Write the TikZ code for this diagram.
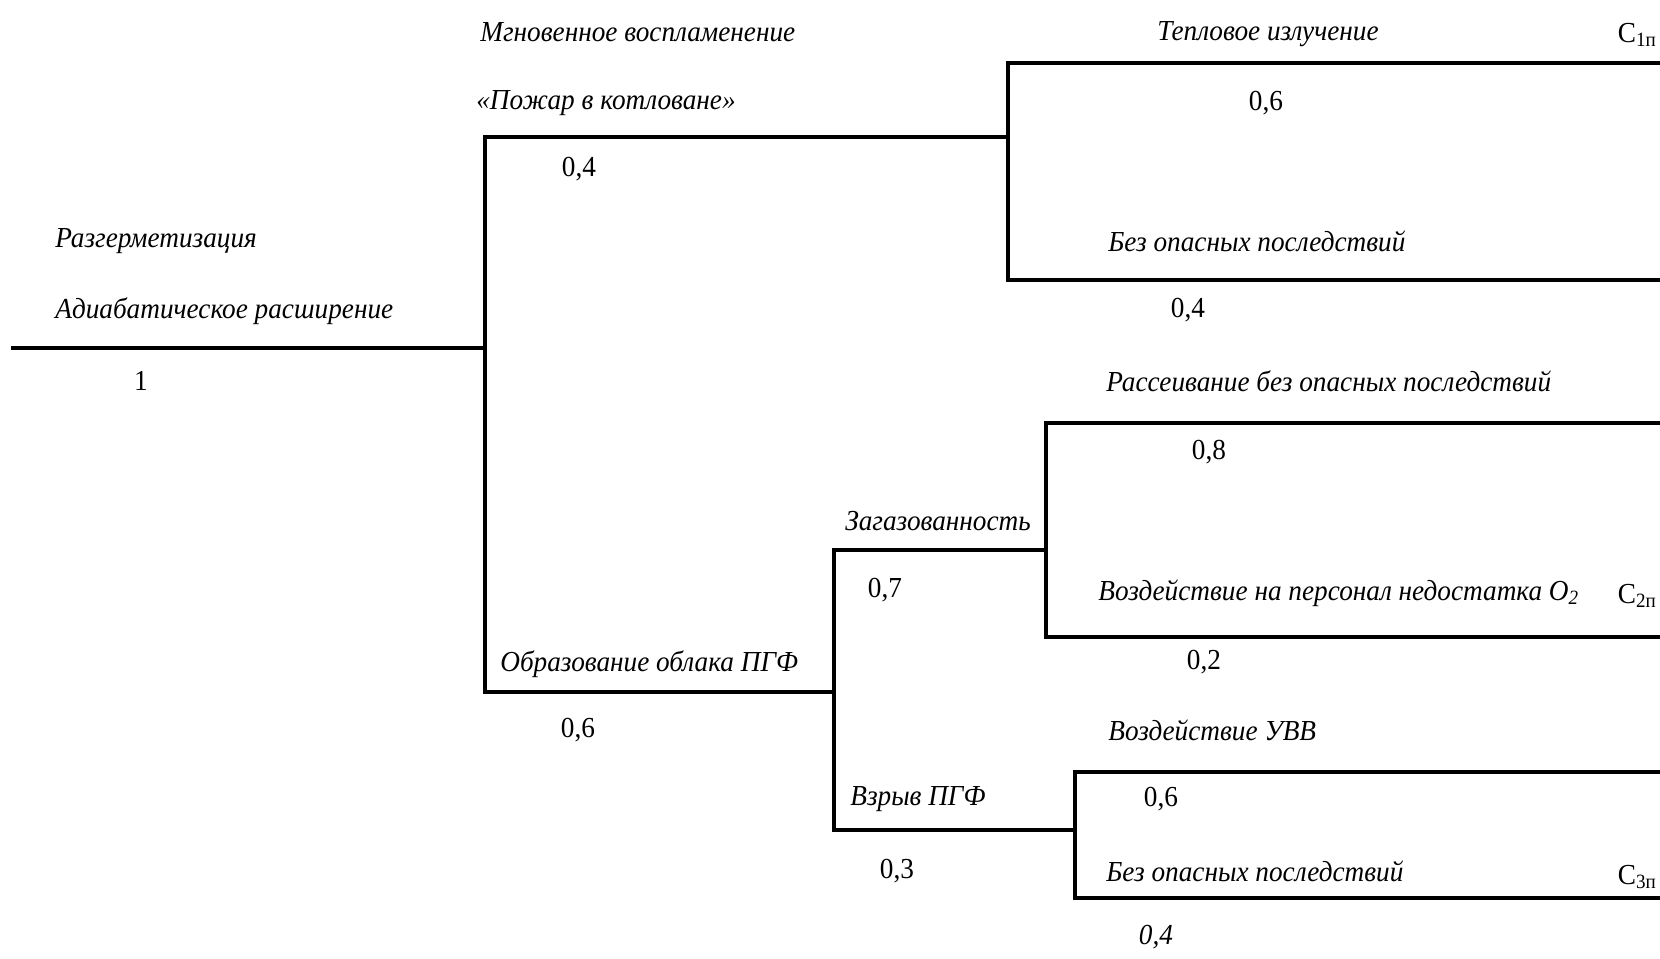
\documentclass[tikz,border=0pt]{standalone}
\usepackage{fontspec}
\setmainfont{Liberation Serif}[FakeStretch=0.94]
\usetikzlibrary{positioning,calc}

\begin{document}
\begin{tikzpicture}[x=0.02cm,y=-0.02cm,
	br/.style={line width=2.2pt, line join=miter},
	ev/.style={font=\fontsize{16.5}{18}\selectfont\itshape, inner sep=0pt, anchor=west},
	pr/.style={font=\fontsize{16.5}{18}\selectfont, inner sep=0pt}]

	\useasboundingbox (0,0) rectangle (1660,958);

	% junctions
	\coordinate (S) at (11,348);
	\coordinate (A) at (485,348);
	\coordinate (A1) at (485,137);
	\coordinate (A2) at (485,692);

	\coordinate (B) at (1008,137);
	\coordinate (B1) at (1008,63);
	\coordinate (B2) at (1008,280);
	\coordinate (B1e) at (1660,63);
	\coordinate (B2e) at (1660,280);

	\coordinate (C) at (834,692);
	\coordinate (C1) at (834,550);
	\coordinate (C2) at (834,830);

	\coordinate (D) at (1046,550);
	\coordinate (D1) at (1046,423);
	\coordinate (D2) at (1046,637);
	\coordinate (D1e) at (1660,423);
	\coordinate (D2e) at (1660,637);

	\coordinate (E) at (1075,830);
	\coordinate (E1) at (1075,772);
	\coordinate (E2) at (1075,898);
	\coordinate (E1e) at (1660,772);
	\coordinate (E2e) at (1660,898);

	% branches
	\draw[br] (S) -- (A);
	\draw[br] (B) -- (A1) -- (A2) -- (C);
	\draw[br] (B1e) -- (B1) -- (B2) -- (B2e);
	\draw[br] (D) -- (C1) -- (C2) -- (E);
	\draw[br] (D1e) -- (D1) -- (D2) -- (D2e);
	\draw[br] (E1e) -- (E1) -- (E2) -- (E2e);

	% events and probabilities
	\node[ev] (leak) at (55,241) {Разгерметизация};
	\node[ev] (adia) at (55,311) {Адиабатическое расширение};
	\node[pr] (p1) at (141,381) {1};

	\node[ev] (ign) at (480,32) {Мгновенное воспламенение};
	\node[ev] (pool) at (476,103) {«Пожар в котловане»};
	\node[pr] (p04a) at (579,169) {0,4};

	\node[ev, anchor=center] (heat) at (1268,34) {Тепловое излучение};
	\node[pr] (p06a) at (1266,103) {0,6};
	\node[pr, anchor=east] (c1) at (1657,35) {С\textsubscript{1п}};
	\node[ev] (safe1) at (1108,241) {Без опасных последствий};
	\node[pr] (p04b) at (1188,310) {0,4};

	\node[ev] (cloud) at (500,664) {Образование облака ПГФ};
	\node[pr] (p06b) at (578,730) {0,6};

	\node[ev] (gas) at (845,521) {Загазованность};
	\node[pr] (p07) at (885,590) {0,7};
	\node[ev] (disp) at (1106,381) {Рассеивание без опасных последствий};
	\node[pr] (p08) at (1209,452) {0,8};
	\node[ev] (oxy) at (1098,593) {Воздействие на персонал недостатка O\textsubscript{2}};
	\node[pr, anchor=east] (c2) at (1657,596) {С\textsubscript{2п}};
	\node[pr] (p02) at (1204,662) {0,2};

	\node[ev] (expl) at (850,799) {Взрыв ПГФ};
	\node[pr] (p03) at (897,871) {0,3};
	\node[ev] (shock) at (1108,730) {Воздействие УВВ};
	\node[pr] (p06c) at (1161,799) {0,6};
	\node[ev] (safe2) at (1106,871) {Без опасных последствий};
	\node[pr, anchor=east] (c3) at (1657,877) {С\textsubscript{3п}};
	\node[pr, font=\fontsize{16.5}{18}\selectfont\itshape] (p04c) at (1156,937) {0,4};

\end{tikzpicture}
\end{document}
